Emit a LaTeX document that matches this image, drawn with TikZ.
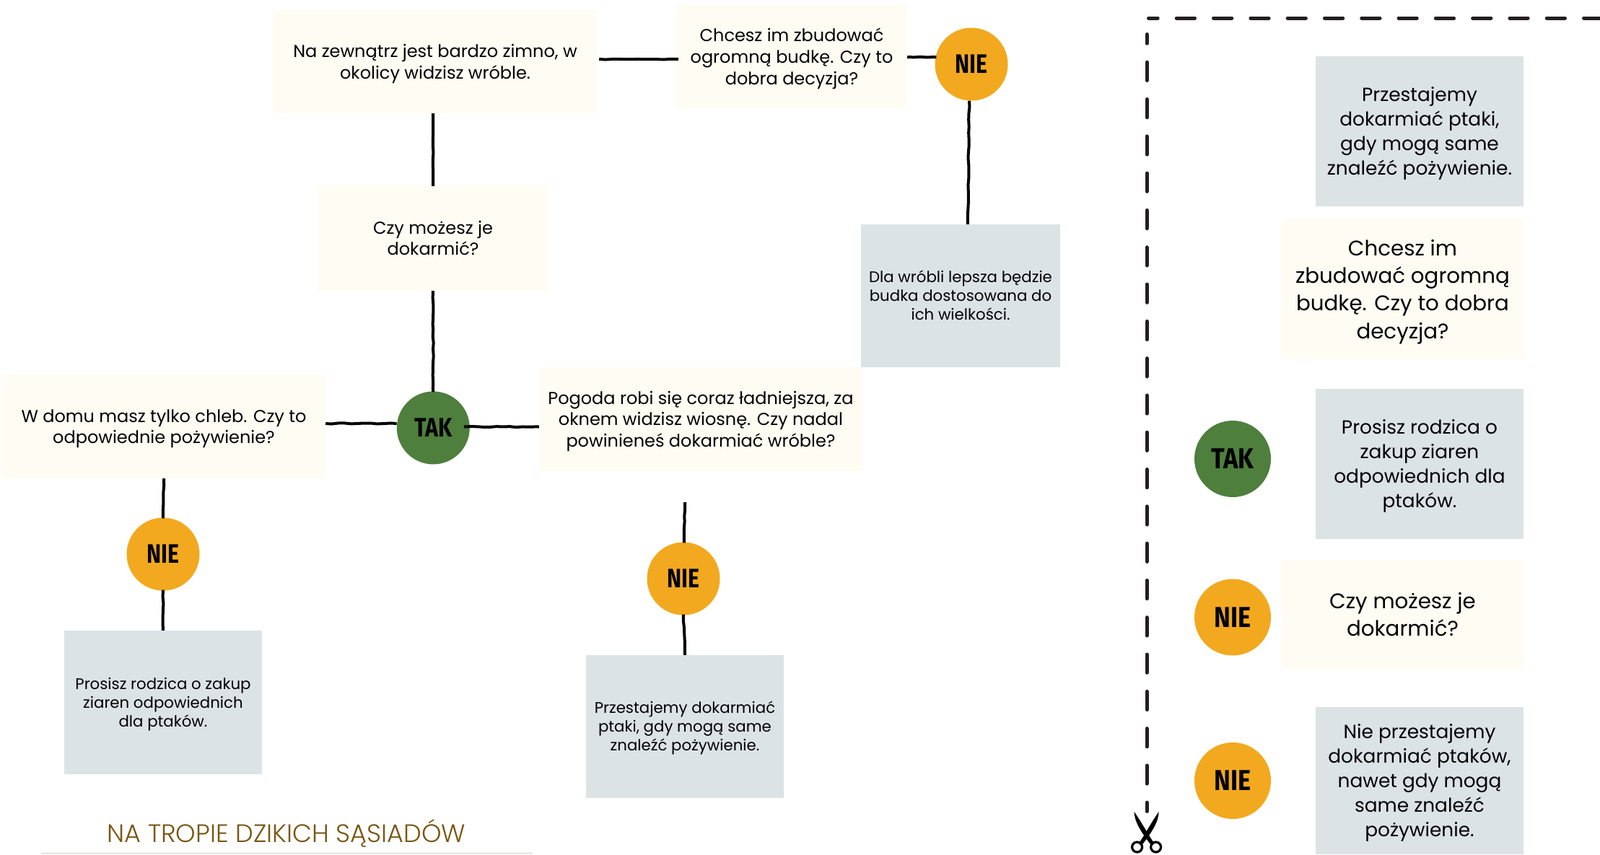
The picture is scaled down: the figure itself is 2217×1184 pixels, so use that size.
\documentclass[tikz,border=0pt]{standalone}
\usepackage{fontspec}
\setmainfont{Poppins}
\newfontfamily\titlefont{Poppins Light}
\newfontfamily\badgefont{Fira Sans}[BoldFont=* Bold]
\usetikzlibrary{decorations.pathmorphing}
\definecolor{creamc}{HTML}{FFFCF3}
\definecolor{greyc}{HTML}{DCE3E5}
\definecolor{orangec}{HTML}{F2A91F}
\definecolor{greenc}{HTML}{4E7F3D}
\definecolor{titlec}{HTML}{7A5510}
\definecolor{rulec}{HTML}{C8D3C4}
\definecolor{dashc}{HTML}{231F20}
\newcommand{\T}{\rule{0pt}{1.14em}}
\newcommand{\B}{\rule[-0.4em]{0pt}{0pt}}
\tikzset{
  box/.style={rectangle,inner sep=0pt,align=center,text=black},
  cream/.style={box,fill=creamc},
  grey/.style={box,fill=greyc},
  tmid/.style={font=\fontsize{24}{29.7}\selectfont},
  tsmall/.style={font=\fontsize{21.3}{26}\selectfont},
  tbig/.style={font=\fontsize{26.4}{34}\selectfont},
  thuge/.style={font=\fontsize{29.3}{38.2}\selectfont},
  badge/.style={circle,inner sep=0pt,minimum size=101pt,font=\badgefont\bfseries\fontsize{37}{37}\selectfont},
  badgebig/.style={badge,minimum size=106pt,font=\badgefont\bfseries\fontsize{40}{40}\selectfont},
  yes/.style={fill=greenc},
  no/.style={fill=orangec},
  link/.style={draw=black,line width=4pt,decorate,decoration={random steps,segment length=9pt,amplitude=.55pt}},
  cut/.style={draw=dashc,line width=5pt,line cap=round,dash pattern=on 25.3pt off 26pt}
}
\newcommand{\narrow}[1]{\scalebox{.82}[1]{#1}}
\newcommand{\narrowbig}[1]{\scalebox{.86}[1]{#1}}
\begin{document}
\begin{tikzpicture}[x=1pt,y=-1pt]
\useasboundingbox (0,0) rectangle (2217,1184);
\fill[white] (0,0) rectangle (2217,1184);
% flow boxes
\node[cream,tmid,minimum width=448pt,minimum height=143pt] (a) at (603,85.5) {\T Na zewnątrz jest bardzo zimno, w\\okolicy widzisz wróble.\B};
\node[cream,tmid,minimum width=320pt,minimum height=143pt] (b) at (1097,78.5) {\T Chcesz im zbudować\\ogromną budkę. Czy to\\dobra decyzja?\B};
\node[cream,tmid,minimum width=318pt,minimum height=146pt] (c) at (600,330) {\T Czy możesz je\\dokarmić?\B};
\node[cream,tmid,minimum width=448pt,minimum height=144pt] (d) at (227,591) {\T W domu masz tylko chleb. Czy to\\odpowiednie pożywienie?\B};
\node[cream,tmid,minimum width=448pt,minimum height=144pt] (e) at (971,581) {\T Pogoda robi się coraz ładniejsza, za\\oknem widzisz wiosnę. Czy nadal\\powinieneś dokarmiać wróble?\B};
\node[grey,tsmall,minimum width=276pt,minimum height=198pt] (f) at (1331,410) {\T Dla wróbli lepsza będzie\\budka dostosowana do\\ich wielkości.\B};
\node[grey,tsmall,minimum width=274pt,minimum height=199pt] (g) at (226,973.5) {\T Prosisz rodzica o zakup\\ziaren odpowiednich\\dla ptaków.\B};
\node[grey,tsmall,minimum width=274pt,minimum height=198pt] (h) at (949,1007) {\T Przestajemy dokarmiać\\ptaki, gdy mogą same\\znaleźć pożywienie.\B};
% badges in the flow
\node[badge,no] (n1) at (1346,89) {\narrow{NIE}};
\node[badge,no] (n2) at (226,768) {\narrow{NIE}};
\node[badge,no] (n3) at (947,802) {\narrow{NIE}};
\node[badge,yes] (t1) at (600.3,593) {\narrow{TAK}};
\coordinate (free) at (949,696);
% connectors
\draw[link] ([yshift=3.5pt,xshift=3pt]a.east) -- ([yshift=-3.5pt,xshift=3pt]b.west);
\draw[link] ([yshift=-0.5pt]b.east) -- ([yshift=10pt,xshift=2pt]n1.west);
\draw[link] ([xshift=-3pt]n1.south) -- (f.north -| 1341,0);
\draw[link] (a.south) ++(-3pt,0) -- ([yshift=-1pt]c.north);
\draw[link] (c.south) -- ([yshift=-1pt]t1.north);
\draw[link] ([yshift=6pt]t1.west) -- ([yshift=4pt]d.east);
\draw[link] ([xshift=-8pt,yshift=1.5pt]t1.east) -- ([yshift=-10.5pt]e.west);
\draw[link] (d.south) -- ([yshift=-1pt]n2.north);
\draw[link] ([yshift=1pt]n2.south) -- (g.north);
\draw[link] (free) -- ([yshift=-1pt,xshift=1pt]n3.north);
\draw[link] ([yshift=1pt]n3.south) -- (h.north);
% right column
\node[grey,tbig,minimum width=288pt,minimum height=208pt] (r1) at (1967,182) {\T Przestajemy\\dokarmiać ptaki,\\gdy mogą same\\znaleźć pożywienie.\B};
\node[cream,thuge,minimum width=335pt,minimum height=194pt] (r2) at (1943.5,401) {\T Chcesz im\\zbudować ogromną\\budkę. Czy to dobra\\decyzja?\B};
\node[grey,tbig,minimum width=288pt,minimum height=208pt] (r3) at (1967,643) {\T Prosisz rodzica o\\zakup ziaren\\odpowiednich dla\\ptaków.\B};
\node[cream,thuge,minimum width=335pt,minimum height=152pt] (r4) at (1943.5,852) {\T Czy możesz je\\dokarmić?\B};
\node[grey,tbig,minimum width=288pt,minimum height=204pt] (r5) at (1967,1082) {\T Nie przestajemy\\dokarmiać ptaków,\\nawet gdy mogą\\same znaleźć\\pożywienie.\B};
\node[badgebig,yes] (t2) at (1708,636) {\narrowbig{TAK}};
\node[badgebig,no] (n4) at (1708,855.5) {\narrowbig{NIE}};
\node[badgebig,no] (n5) at (1708,1082) {\narrowbig{NIE}};
% cut line
\coordinate (cutright) at (2217,25);
\coordinate (cutbottom) at (1589,1124.5);
\draw[cut,dash phase=12.6pt] (1591.5,25) -- (cutright);
\draw[cut,dash phase=12.6pt] (1589,47.5) -- (cutbottom);
% scissors
\begin{scope}[shift={(1588.6,1158)}]
\fill[black] (-17,-33) .. controls (-17,-20) and (-8,-5) .. (7,14) -- (11,11) .. controls (4,2) and (-4,-14) .. (-17,-33) -- cycle;
\fill[black] (17,-33) .. controls (17,-20) and (8,-5) .. (-7,14) -- (-11,11) .. controls (-4,2) and (4,-14) .. (17,-33) -- cycle;
\draw[black,line width=3.2pt] (-13,16) circle (7);
\draw[black,line width=3.2pt] (13,16) circle (7);
\end{scope}
% title
\node[inner sep=0pt,text=titlec,font=\titlefont\fontsize{35}{40}\selectfont] (title) at (397,1155) {NA TROPIE DZIKICH SĄSIADÓW};
\coordinate (rulea) at (57,1182.5);
\coordinate (ruleb) at (738,1182.5);
\draw[rulec,line width=1.5pt] (rulea) -- (ruleb);
\end{tikzpicture}
\end{document}
